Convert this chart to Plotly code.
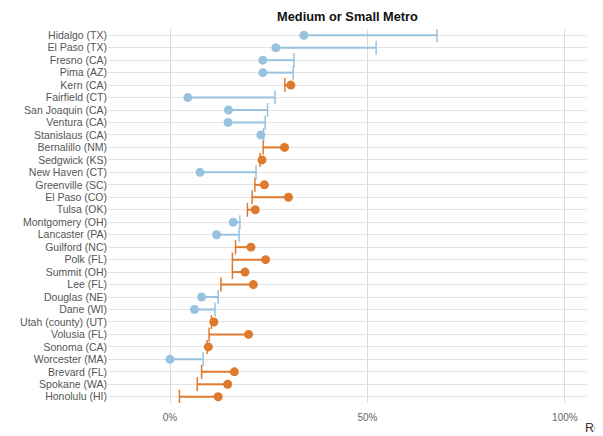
import plotly.graph_objects as go

cities = ["Hidalgo (TX)", "El Paso (TX)", "Fresno (CA)", "Pima (AZ)", "Kern (CA)",
          "Fairfield (CT)", "San Joaquin (CA)", "Ventura (CA)", "Stanislaus (CA)",
          "Bernalillo (NM)", "Sedgwick (KS)", "New Haven (CT)", "Greenville (SC)",
          "El Paso (CO)", "Tulsa (OK)", "Montgomery (OH)", "Lancaster (PA)",
          "Guilford (NC)", "Polk (FL)", "Summit (OH)", "Lee (FL)", "Douglas (NE)",
          "Dane (WI)", "Utah (county) (UT)", "Volusia (FL)", "Sonoma (CA)",
          "Worcester (MA)", "Brevard (FL)", "Spokane (WA)", "Honolulu (HI)"]
start_vals = [67.6, 52.2, 31.4, 31.2, 29.1, 26.6, 24.7, 24.1, 23.7, 23.6,
              22.8, 21.8, 21.5, 20.8, 19.6, 17.7, 17.5, 16.6, 15.8, 15.8,
              12.9, 12.2, 11.4, 10.5, 9.9, 9.4, 8.4, 8.0, 6.9, 2.4]
end_vals = [33.9, 26.8, 23.5, 23.5, 30.6, 4.5, 14.8, 14.7, 23.0, 29.0,
            23.3, 7.6, 23.9, 30.0, 21.6, 16.0, 11.8, 20.5, 24.2, 19.0,
            21.1, 8.0, 6.2, 11.1, 19.9, 9.7, 0.0, 16.3, 14.6, 12.2]
x_ticks = [0, 50, 100]
x_tick_labels = ["0%", "50%", "100%"]

BLUE = "#97c3df"
ORANGE = "#de7a2e"

fig = go.Figure()
for up, color in [(False, BLUE), (True, ORANGE)]:
    xs, ys = [], []
    tx, ty, dx, dy = [], [], [], []
    for c, s, e in zip(cities, start_vals, end_vals):
        if (e > s) != up:
            continue
        xs += [s, e, None]
        ys += [c, c, None]
        tx.append(s); ty.append(c)
        dx.append(e); dy.append(c)
    fig.add_trace(go.Scatter(x=xs, y=ys, mode="lines",
                             line=dict(color=color, width=2),
                             showlegend=False, hoverinfo="skip"))
    fig.add_trace(go.Scatter(x=tx, y=ty, mode="markers",
                             marker=dict(symbol="line-ns", size=10,
                                         line=dict(color=color, width=1.5)),
                             showlegend=False))
    fig.add_trace(go.Scatter(x=dx, y=dy, mode="markers",
                             marker=dict(symbol="circle", size=9, color=color),
                             showlegend=False))

fig.update_layout(
    width=595, height=428,
    margin=dict(l=100, r=16, t=21, b=33),
    paper_bgcolor="white", plot_bgcolor="white",
    font=dict(family="Liberation Sans, Arial, sans-serif", size=10.5, color="#555"),
    title=dict(text="<b>Medium or Small Metro</b>", x=0.5, xref="paper",
               y=0.98, yanchor="middle",
               font=dict(size=12.8, color="#111")),
    xaxis=dict(range=[-15.7, 105.6], tickvals=x_ticks, ticktext=x_tick_labels,
               showgrid=True, gridcolor="#d9d9d9", gridwidth=1,
               zeroline=False, showline=False, ticks="",
               ticklabelstandoff=7,
               tickfont=dict(size=10, color="#666")),
    yaxis=dict(categoryorder="array", categoryarray=cities,
               tickmode="array", tickvals=cities, ticktext=cities,
               showgrid=True, gridcolor="#e3e3e3", gridwidth=1,
               zeroline=False, showline=False, ticks="",
               tickfont=dict(size=10.5, color="#555")),
    annotations=[dict(text="Re", xref="paper", yref="paper",
                      x=1.033, y=-0.066, xanchor="right", yanchor="middle",
                      showarrow=False, font=dict(size=12.5, color="#333"))],
)
fig.update_yaxes(autorange=False, range=[29.5, -0.5])

fig.write_html("out.html")
